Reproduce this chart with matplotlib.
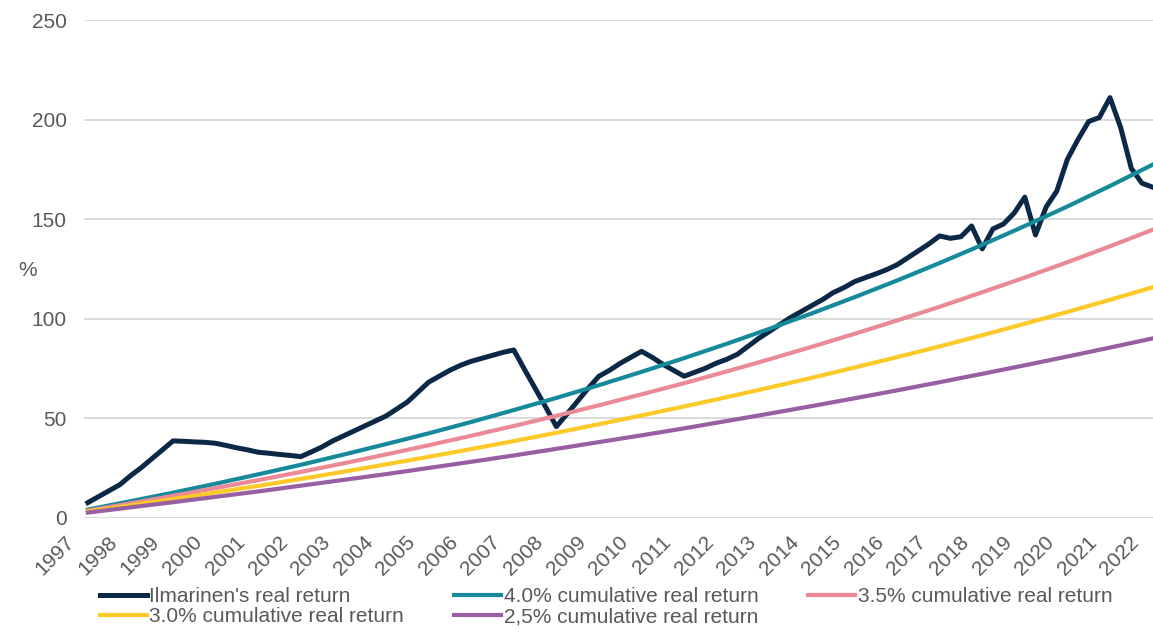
import matplotlib.pyplot as plt
import matplotlib.transforms as mtransforms

plt.rcParams['font.family'] = ['Liberation Sans', 'DejaVu Sans']

# quarter-end dates as decimal years, end of 1997 .. end of 2022
quarters = [1998 + q / 4 for q in range(101)]

ilmarinen = [
    7.5, 10.5, 13.5, 16.5, 21.0, 25.0, 29.5, 34.0, 38.5, 38.3,
    38.0, 37.8, 37.3, 36.2, 35.0, 34.0, 32.8, 32.3, 31.7, 31.2,
    30.6, 33.0, 35.5, 38.5, 41.0, 43.5, 46.0, 48.5, 51.0, 54.5,
    58.0, 63.0, 68.0, 71.0, 74.0, 76.5, 78.5, 80.0, 81.5, 83.0,
    84.2, 74.5, 65.0, 55.5, 45.7, 52.0, 58.5, 65.0, 71.0, 74.0,
    77.5, 80.5, 83.5, 80.5, 77.0, 74.0, 71.0, 73.0, 75.0, 77.5,
    79.5, 82.0, 86.0, 90.0, 93.5, 97.0, 100.5, 103.5, 106.5, 109.5,
    113.0, 115.5, 118.5, 120.5, 122.4, 124.5, 127.0, 130.5, 134.0, 137.5,
    141.5, 140.3, 141.1, 146.5, 135.0, 145.0, 147.5, 153.0, 161.0, 142.0,
    156.0, 164.0, 180.0, 190.0, 199.0, 201.0, 211.0, 196.0, 175.5, 168.0,
    166.0,
]

# yearly points of the benchmark curves
bench_years = list(range(1998, 2024))
ret_40 = [4.0, 8.2, 12.5, 17.0, 21.7, 26.5, 31.6, 36.9, 42.3, 48.0,
          54.0, 60.1, 66.5, 73.2, 80.1, 87.3, 94.8, 102.6, 110.7, 119.1,
          127.9, 137.0, 146.5, 156.3, 166.6, 177.3]
ret_35 = [3.5, 7.1, 10.9, 14.8, 18.8, 22.9, 27.2, 31.7, 36.3, 41.1,
          46.0, 51.1, 56.4, 61.9, 67.5, 73.4, 79.5, 85.8, 92.3, 99.0,
          105.9, 113.2, 120.6, 128.3, 136.3, 144.6]
ret_30 = [3.0, 6.1, 9.3, 12.6, 15.9, 19.4, 23.0, 26.7, 30.5, 34.4,
          38.4, 42.6, 46.9, 51.3, 55.8, 60.5, 65.3, 70.2, 75.4, 80.6,
          86.0, 91.6, 97.4, 103.3, 109.4, 115.7]
ret_25 = [2.5, 5.1, 7.7, 10.4, 13.1, 16.0, 18.9, 21.8, 24.9, 28.0,
          31.2, 34.5, 37.9, 41.3, 44.8, 48.5, 52.2, 56.0, 59.9, 63.9,
          68.0, 72.2, 76.5, 80.9, 85.4, 90.0]

year_labels = [str(y) for y in range(1997, 2023)]

grey = '#595959'
fs = 15

fig = plt.figure(figsize=(11.53, 6.35), dpi=100)
ax = fig.add_axes([0.0729, 0.185, 0.9271, 0.7835])

l_ilm, = ax.plot(quarters, ilmarinen, color='#0b2846', lw=3.6,
                 solid_joinstyle='round', label="Ilmarinen's real return")
l40, = ax.plot(bench_years, ret_40, color='#16899a', lw=3.0,
               label='4.0% cumulative real return')
l35, = ax.plot(bench_years, ret_35, color='#ea8a97', lw=3.0,
               label='3.5% cumulative real return')
l30, = ax.plot(bench_years, ret_30, color='#fcc928', lw=3.0,
               label='3.0% cumulative real return')
l25, = ax.plot(bench_years, ret_25, color='#985fa2', lw=3.0,
               label='2,5% cumulative real return')

ax.set_xlim(1997.91, 2023.01)
ax.set_ylim(0, 250)
ax.set_yticks(range(0, 251, 50))
ax.set_xticks([])
ax.grid(axis='y', color='#d9d9d9', lw=1.4)
ax.set_axisbelow(True)
for s in ax.spines.values():
    s.set_visible(False)
ax.tick_params(axis='y', length=0, pad=12.5, labelsize=fs, labelcolor=grey)

# rotated year labels along the bottom
trans = mtransforms.blended_transform_factory(ax.transData, ax.transAxes)
for i, lab in enumerate(year_labels):
    ax.text(1997.46 + i, -0.03, lab, transform=trans, rotation=45,
            ha='right', va='top', rotation_mode='anchor', fontsize=fs,
            color=grey, clip_on=False)

fig.text(28 / 1153, 1 - 270 / 635, '%', fontsize=fs, color=grey,
         ha='center', va='center')

handles = [l_ilm, l30, l40, l25, l35]
fig.legend(handles, [h.get_label() for h in handles],
           loc='upper left', bbox_to_anchor=(100 / 1153, 1 - 587 / 635),
           ncol=3, frameon=False, borderpad=0, borderaxespad=0,
           handlelength=2.25, handletextpad=0.12, columnspacing=2.4,
           labelspacing=0.05, fontsize=fs, labelcolor=grey)

fig.savefig('out.png', dpi=100)
